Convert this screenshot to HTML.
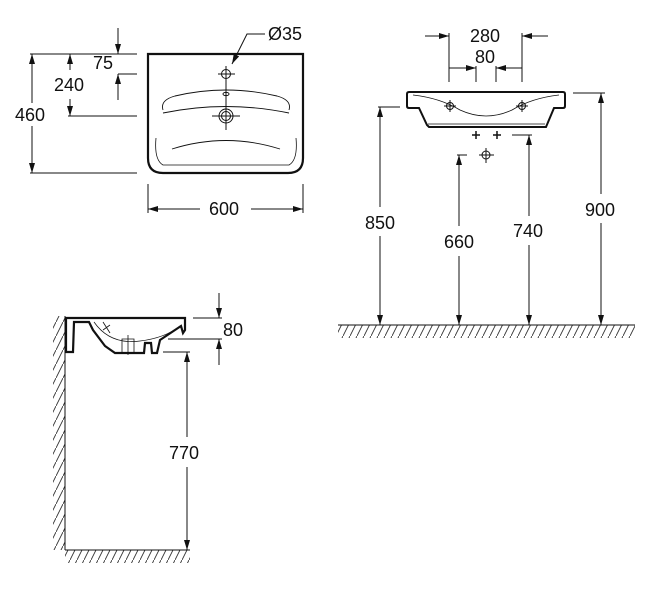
<!DOCTYPE html>
<html><head><meta charset="utf-8"><style>
html,body{margin:0;padding:0;background:#fff;}
svg{display:block;}
text{font-family:"Liberation Sans",Arial,sans-serif;font-size:18px;fill:#111;}
</style></head><body>
<svg width="650" height="590" viewBox="0 0 650 590" xmlns="http://www.w3.org/2000/svg">
<defs>
<marker id="a" viewBox="0 0 10 10" refX="10" refY="5" markerWidth="10" markerHeight="10" markerUnits="userSpaceOnUse" orient="auto-start-reverse">
<path d="M0,2 L10,5 L0,8 Z" fill="#111"/></marker>
<pattern id="h" width="7" height="14" patternUnits="userSpaceOnUse">
<line x1="0" y1="14" x2="7" y2="0" stroke="#333" stroke-width="0.9"/></pattern>
</defs>
<g stroke="#111" fill="none" stroke-width="1">
<path d="M148,54 L303,54 L303,158 Q303,173 288,173 L163,173 Q148,173 148,158 Z" stroke-width="2.2"/>
<path d="M156,138 Q154,160 163,165 L289,165 Q298,160 296,138" stroke-width="0.8"/>
<path d="M163,110 Q160,100 175,96 Q226,84 277,96 Q292,100 289,110" stroke-width="0.9"/>
<path d="M163,113 Q226,100 289,113" stroke-width="0.9"/>
<path d="M172,149 Q226,132 280,149" stroke-width="0.9"/>
<circle cx="226" cy="74" r="4.5"/><line x1="218" y1="74" x2="235" y2="74"/><line x1="226" y1="66" x2="226" y2="130"/>
<ellipse cx="226" cy="94" rx="3" ry="1.6"/>
<circle cx="226" cy="116" r="7"/><circle cx="226" cy="116" r="4.5"/><line x1="212" y1="116" x2="240" y2="116"/>
<polyline points="265,34 247,34 232,64" marker-end="url(#a)"/>
<line x1="30" y1="54" x2="137" y2="54"/><line x1="30" y1="173" x2="137" y2="173"/>
<line x1="32" y1="103" x2="32" y2="54" marker-end="url(#a)"/><line x1="32" y1="126" x2="32" y2="173" marker-end="url(#a)"/>
<line x1="68" y1="116" x2="137" y2="116"/>
<line x1="70" y1="70" x2="70" y2="54" marker-end="url(#a)"/><line x1="70" y1="99" x2="70" y2="116" marker-end="url(#a)"/>
<line x1="118" y1="74" x2="137" y2="74"/>
<line x1="118" y1="28" x2="118" y2="54" marker-end="url(#a)"/><line x1="118" y1="100" x2="118" y2="74" marker-end="url(#a)"/>
<line x1="148" y1="184" x2="148" y2="213"/><line x1="303" y1="184" x2="303" y2="213"/>
<line x1="200" y1="209" x2="148" y2="209" marker-end="url(#a)"/><line x1="251" y1="209" x2="303" y2="209" marker-end="url(#a)"/>

<path d="M409,92 L563,92 Q565,92 565,94 L565,106 Q565,108 563,108 L554,108 L546,127 L429,127 L427,125 L419,108 L409,108 Q407,108 407,106 L407,94 Q407,92 409,92 Z" stroke-width="2"/>
<path d="M413,95 Q440,98 460,110 Q486,122 512,110 Q532,98 559,95" stroke-width="0.8"/>
<line x1="428" y1="124" x2="545" y2="124" stroke-width="0.7"/>
<circle cx="450" cy="106" r="3.5"/><line x1="444" y1="106" x2="456" y2="106"/><line x1="450" y1="100" x2="450" y2="112"/>
<circle cx="522" cy="106" r="3.5"/><line x1="516" y1="106" x2="528" y2="106"/><line x1="522" y1="100" x2="522" y2="112"/>
<path d="M472,135 h8 M476,131 v8 M493,135 h8 M497,131 v8" stroke-width="1.5"/>
<circle cx="486" cy="155" r="4"/><line x1="479" y1="155" x2="494" y2="155"/><line x1="486" y1="148" x2="486" y2="163"/>
<line x1="449" y1="33" x2="449" y2="82"/><line x1="522" y1="33" x2="522" y2="82"/>
<line x1="476" y1="66" x2="476" y2="82"/><line x1="496" y1="66" x2="496" y2="82"/>
<line x1="425" y1="36" x2="449" y2="36" marker-end="url(#a)"/><line x1="548" y1="36" x2="522" y2="36" marker-end="url(#a)"/>
<line x1="449" y1="68" x2="476" y2="68" marker-end="url(#a)"/><line x1="522" y1="68" x2="496" y2="68" marker-end="url(#a)"/>
<line x1="378" y1="107" x2="400" y2="107"/>
<line x1="380" y1="207" x2="380" y2="107" marker-end="url(#a)"/><line x1="380" y1="236" x2="380" y2="325" marker-end="url(#a)"/>
<line x1="457" y1="155" x2="467" y2="155"/>
<line x1="459" y1="226" x2="459" y2="155" marker-end="url(#a)"/><line x1="459" y1="256" x2="459" y2="325" marker-end="url(#a)"/>
<line x1="512" y1="135" x2="532" y2="135"/>
<line x1="529" y1="216" x2="529" y2="135" marker-end="url(#a)"/><line x1="529" y1="245" x2="529" y2="325" marker-end="url(#a)"/>
<line x1="573" y1="93" x2="605" y2="93"/>
<line x1="601" y1="194" x2="601" y2="93" marker-end="url(#a)"/><line x1="601" y1="223" x2="601" y2="325" marker-end="url(#a)"/>
<rect x="338" y="325" width="297" height="13" fill="url(#h)" stroke="none"/>
<line x1="338" y1="325" x2="635" y2="325"/>

<rect x="53" y="316" width="12" height="234" fill="url(#h)" stroke="none"/>
<line x1="65" y1="316" x2="65" y2="550"/>
<rect x="65" y="550" width="125" height="13" fill="url(#h)" stroke="none"/>
<line x1="65" y1="550" x2="190" y2="550"/>
<path d="M66,318 L185,318 L185,330 L183,333 L181,326 L178,328 L160,340 L157,353 L152,353 L151,343 L145,343 L144,353 L115,353 L105,346 L93,330 L89,322 L74,322 L73,352 L66,352 Z" stroke-width="2.2"/>
<path d="M94,322 Q110,345 140,341 Q165,338 180,326" stroke-width="0.7"/>
<path d="M122,339 h12 v14 h-12 z M128,335 v20" stroke-width="0.8"/>
<line x1="103" y1="322" x2="110" y2="333" stroke-width="0.8"/><line x1="103" y1="330" x2="110" y2="325" stroke-width="0.8"/>
<line x1="193" y1="318" x2="222" y2="318"/><line x1="168" y1="339" x2="222" y2="339"/>
<line x1="219" y1="293" x2="219" y2="318" marker-end="url(#a)"/><line x1="219" y1="365" x2="219" y2="339" marker-end="url(#a)"/>
<line x1="163" y1="352" x2="190" y2="352"/>
<line x1="187" y1="437" x2="187" y2="352" marker-end="url(#a)"/><line x1="187" y1="467" x2="187" y2="550" marker-end="url(#a)"/>
</g>
<g>
<text x="268" y="40">Ø35</text>
<text x="93" y="69">75</text>
<text x="54" y="91">240</text>
<text x="15" y="121">460</text>
<text x="209" y="215">600</text>
<text x="470" y="42">280</text>
<text x="475" y="63">80</text>
<text x="365" y="229">850</text>
<text x="444" y="248">660</text>
<text x="513" y="237">740</text>
<text x="585" y="216">900</text>
<text x="223" y="336">80</text>
<text x="169" y="459">770</text>
</g>
</svg>
</body></html>
